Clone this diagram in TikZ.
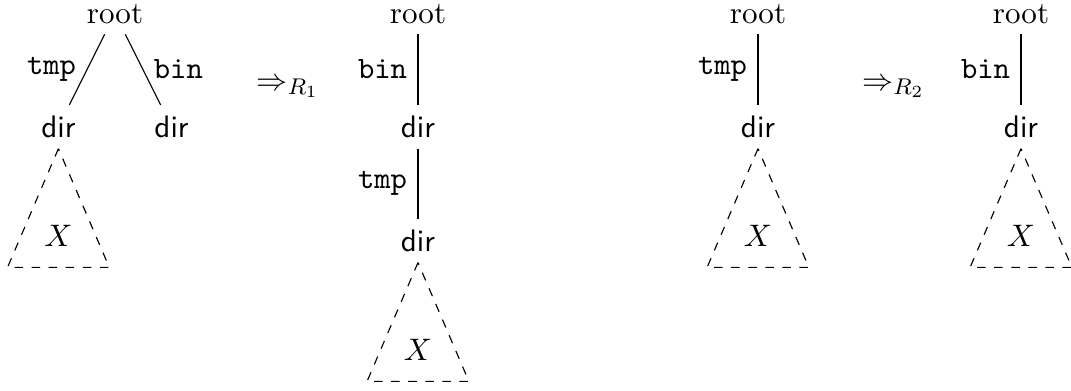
\documentclass[tikz,border=0pt,11pt]{standalone}
\usepackage{amsmath}
\usepackage{tikz}
\usetikzlibrary{calc}

\tikzstyle{nd} = [anchor=base]
\tikzstyle{dirn} = [anchor=base,font=\sffamily]
\tikzstyle{lab} = [midway,font=\ttfamily]
\tikzstyle{sub} = [dashed]

\newcommand{\subtri}[2]{%
	\draw[sub] (#1.south) -- ++(-0.63,-1.47) -- ++(1.26,0) -- cycle;
	\path (#1.south) ++(0,-1.215) node[anchor=base] (#2) {$X$};}

\begin{document}
\begin{tikzpicture}
	\useasboundingbox (0,0) rectangle (13.255,-4.839);

	\begin{scope}[xshift=1.423cm]
	\node[nd] (r1) at (0,-0.285) {root};
	\node[dirn] (d1t) at (-0.70,-1.70) {dir};
	\node[dirn] (d1b) at (0.70,-1.70) {dir};
	\draw (r1) -- (d1t) node[lab,left] {tmp};
	\draw (r1) -- (d1b) node[lab,right] {bin};
	\subtri{d1t}{x1}
	\end{scope}

	\node[nd] (ra) at (3.564,-1.114) {$\Rightarrow_{R_1}$};

	\begin{scope}[xshift=5.173cm]
	\node[nd] (r2) at (0,-0.285) {root};
	\node[dirn] (d2b) at (0,-1.70) {dir};
	\node[dirn] (d2t) at (0,-3.11) {dir};
	\draw (r2) -- (d2b) node[lab,left] {bin};
	\draw (d2b) -- (d2t) node[lab,left] {tmp};
	\subtri{d2t}{x2}
	\end{scope}

	\begin{scope}[xshift=9.381cm]
	\node[nd] (r3) at (0,-0.285) {root};
	\node[dirn] (d3t) at (0,-1.70) {dir};
	\draw (r3) -- (d3t) node[lab,left] {tmp};
	\subtri{d3t}{x3}
	\end{scope}

	\node[nd] (rb) at (11.058,-1.114) {$\Rightarrow_{R_2}$};

	\begin{scope}[xshift=12.636cm]
	\node[nd] (r4) at (0,-0.285) {root};
	\node[dirn] (d4b) at (0,-1.70) {dir};
	\draw (r4) -- (d4b) node[lab,left] {bin};
	\subtri{d4b}{x4}
	\end{scope}
\end{tikzpicture}
\end{document}
